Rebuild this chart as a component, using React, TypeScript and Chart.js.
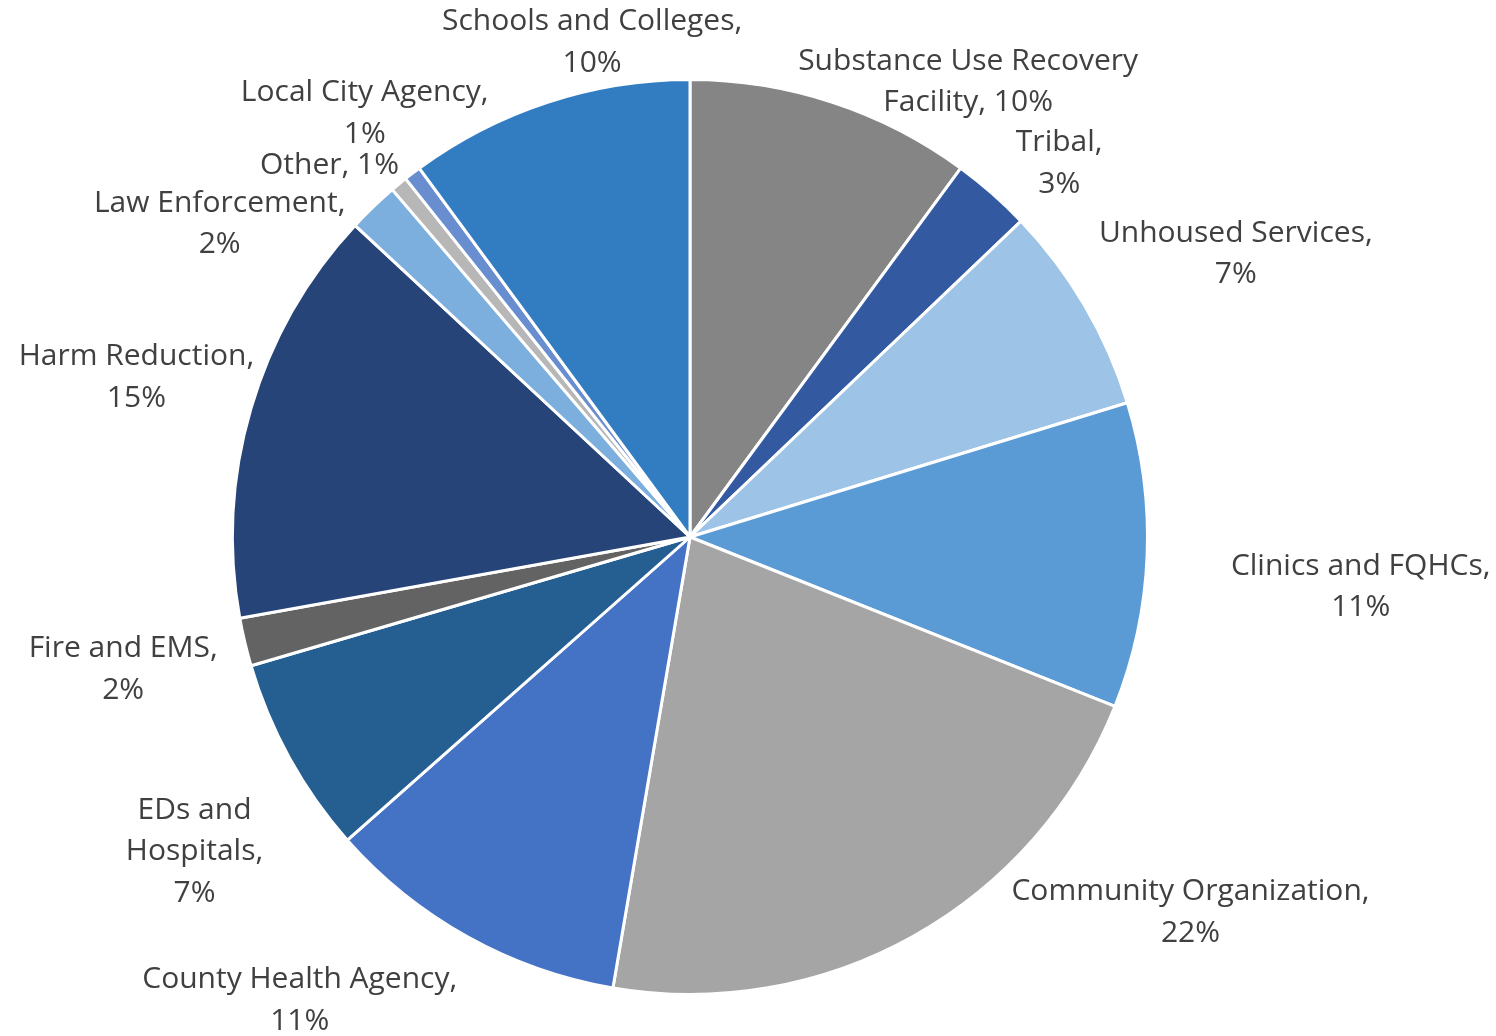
import React, { useEffect, useRef } from "react";
import { Chart, registerables } from "chart.js";

Chart.register(...registerables);

const categories = [
  "Substance Use Recovery Facility",
  "Tribal",
  "Unhoused Services",
  "Clinics and FQHCs",
  "Community Organization",
  "County Health Agency",
  "EDs and Hospitals",
  "Fire and EMS",
  "Harm Reduction",
  "Law Enforcement",
  "Other",
  "Local City Agency",
  "Schools and Colleges",
];

const shares = [10.1, 2.8, 7.4, 10.8, 21.7, 10.8, 7.0, 1.7, 14.8, 1.8, 0.6, 0.6, 10.1];

const colors = [
  "#858585",
  "#335AA1",
  "#9DC3E6",
  "#5B9BD5",
  "#A5A5A5",
  "#4472C4",
  "#255E91",
  "#636363",
  "#264478",
  "#7CAFDD",
  "#B7B7B7",
  "#698ED0",
  "#327DC2",
];

// label text lines (category part), the percentage is appended from data
const labelLines = [
  ["Substance Use Recovery", "Facility, "],
  ["Tribal,", ""],
  ["Unhoused Services,", ""],
  ["Clinics and FQHCs,", ""],
  ["Community Organization,", ""],
  ["County Health Agency,", ""],
  ["EDs and", "Hospitals,", ""],
  ["Fire and EMS,", ""],
  ["Harm Reduction,", ""],
  ["Law Enforcement,", ""],
  ["Other, "],
  ["Local City Agency,", ""],
  ["Schools and Colleges,", ""],
];

// label block centre offsets from pie centre, in units of the radius
const labelOffsets = [
  [0.608, -0.995],
  [0.807, -0.817],
  [1.193, -0.619],
  [1.466, 0.109],
  [1.094, 0.821],
  [-0.853, 1.013],
  [-1.083, 0.688],
  [-1.239, 0.29],
  [-1.21, -0.349],
  [-1.028, -0.684],
  [-0.788, -0.812],
  [-0.711, -0.926],
  [-0.214, -1.081],
];

const labelPlugin = {
  id: "outsideLabels",
  afterDatasetsDraw(chart: any) {
    const meta = chart.getDatasetMeta(0);
    const ctx = chart.ctx;
    const data = chart.data.datasets[0].data as number[];
    const total = data.reduce((a, b) => a + b, 0);
    const lineH = 41.5;
    ctx.save();
    ctx.font = '30px "Open Sans", "Noto Sans", sans-serif';
    ctx.fillStyle = "#404040";
    ctx.textAlign = "center";
    ctx.textBaseline = "middle";
    meta.data.forEach((arc: any, i: number) => {
      const r = arc.outerRadius;
      const cx = arc.x + labelOffsets[i][0] * r;
      const cy = arc.y + labelOffsets[i][1] * r;
      const pct = Math.round((data[i] / total) * 100) + "%";
      const lines = labelLines[i].slice();
      lines[lines.length - 1] = lines[lines.length - 1] + pct;
      const startY = cy - ((lines.length - 1) * lineH) / 2;
      lines.forEach((t, k) => ctx.fillText(t, cx, startY + k * lineH));
    });
    ctx.restore();
  },
};

export default function App() {
  const ref = useRef<HTMLCanvasElement>(null);
  useEffect(() => {
    document.body.style.margin = "0";
    const chart = new Chart(ref.current as HTMLCanvasElement, {
      type: "pie",
      data: {
        labels: categories,
        datasets: [
          {
            data: shares,
            backgroundColor: colors,
            borderColor: "#FFFFFF",
            borderWidth: 3,
          },
        ],
      },
      options: {
        animation: false,
        responsive: false,
        layout: { padding: { left: 231, right: 347, top: 78, bottom: 40 } },
        plugins: {
          legend: { display: false },
          tooltip: { enabled: false },
        },
      },
      plugins: [labelPlugin],
    });
    return () => chart.destroy();
  }, []);
  return (
    <div style={{ width: 1496, height: 1036, background: "#fff" }}>
      <canvas ref={ref} width={1496} height={1036} />
    </div>
  );
}
